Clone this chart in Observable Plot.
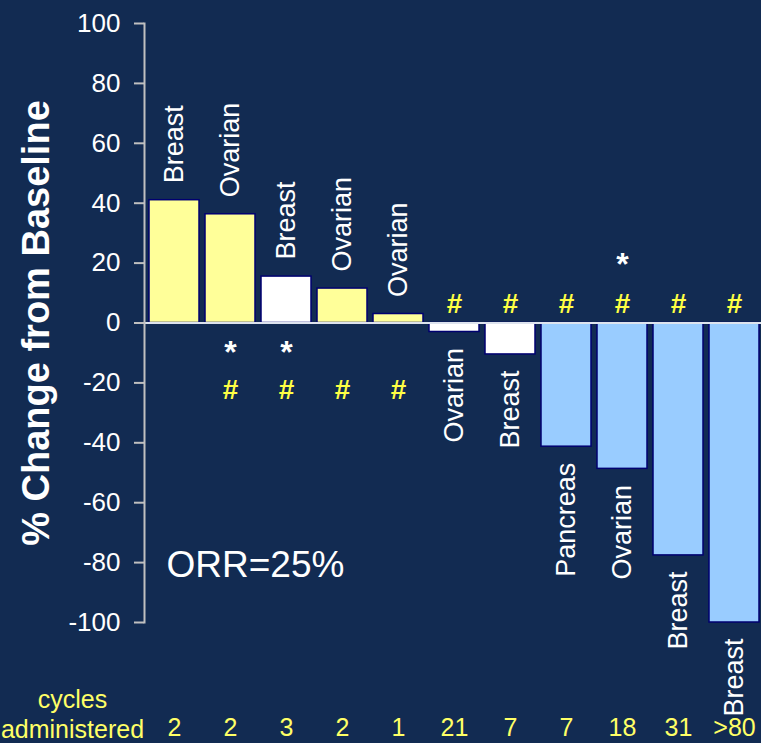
<!DOCTYPE html>
<html><head><meta charset="utf-8">
<script src="https://cdn.jsdelivr.net/npm/d3@7"></script>
<script src="https://cdn.jsdelivr.net/npm/@observablehq/plot@0.6"></script>
<style>
html,body{margin:0;padding:0;background:#122b52;overflow:hidden;}
#chart svg{display:block}
</style></head><body><div id="chart"></div>
<script>
// ---- data ----
const tumors  = ["Breast","Ovarian","Breast","Ovarian","Ovarian","Ovarian","Breast","Pancreas","Ovarian","Breast","Breast"];
const changes = [41, 36.3, 15.5, 11.5, 3, -3, -10.5, -41.3, -48.7, -77.6, -100];
const cycles  = ["2","2","3","2","1","21","7","7","18","31",">80"];
const groups  = ["grpA","grpA","grpB","grpA","grpA","grpB","grpB","grpC","grpC","grpC","grpC"];
const hashMark = [false,true,true,true,true,true,true,true,true,true,true];
const starMark = [false,true,true,false,false,false,false,false,true,false,false];
const yTicks = [100,80,60,40,20,0,-20,-40,-60,-80,-100];
const yTitle = "% Change from Baseline";
const orrLabel = "ORR=25%";
const cyclesTitle = "cycles\nadministered";

const data = changes.map((v, i) => ({i, v, tumor: tumors[i], cyc: cycles[i], group: groups[i], hash: hashMark[i], star: starMark[i]}));
// marker rows: placed on the opposite side of the zero line from the bar
const hashRows = data.filter(d => d.hash).map(d => ({i: d.i, y: d.v > 0 ? -22.5 : 6.5}));
const starRows = data.filter(d => d.star).map(d => ({i: d.i, y: d.v > 0 ? -10 : 19.5}));

const font = "'Liberation Sans', Arial, sans-serif";

const chart = Plot.plot({
  width: 761,
  height: 743,
  marginLeft: 144,
  marginRight: -3,
  marginTop: 23,
  marginBottom: 121,
  style: {background: "#122b52", color: "white", fontFamily: font},
  x: {type: "band", domain: d3.range(tumors.length), paddingInner: 0.1, paddingOuter: 0.05, axis: null},
  y: {domain: [-100, 100], axis: null},
  color: {type: "ordinal", domain: ["grpA","grpB","grpC"], range: ["#ffff99","#ffffff","#99ccff"]},
  marks: [
    Plot.barY(data, {x: "i", y: "v", fill: "group", stroke: "#000070", strokeWidth: 1.5}),
    Plot.ruleY([0], {stroke: "#dde3ee", strokeWidth: 2}),
    Plot.frame({anchor: "left", stroke: "#c0c0c0", strokeWidth: 2}),
    Plot.axisY({ticks: yTicks, tickSize: 10, tickPadding: 14, fontSize: 26, stroke: "#c0c0c0", strokeWidth: 2, fill: "white", label: null, tickFormat: d => String(d)}),
    Plot.axisX({tickSize: 0, tickPadding: 96, fontSize: 25, fill: "#ffff66", label: null, tickFormat: i => cycles[i]}),
    // tumor labels
    Plot.text(data.filter(d => d.v > 0), {x: "i", y: "v", text: "tumor", rotate: -90, textAnchor: "start", dy: -17, fontSize: 27, fill: "white"}),
    Plot.text(data.filter(d => d.v < 0), {x: "i", y: "v", text: "tumor", rotate: -90, textAnchor: "end", dy: 16, fontSize: 27, fill: "white"}),
    // markers
    Plot.text(hashRows, {x: "i", y: "y", text: () => "#", fontSize: 28, fontWeight: "bold", fill: "#ffff44"}),
    Plot.text(starRows, {x: "i", y: "y", text: () => "*", fontSize: 32, fontWeight: "bold", fill: "white"}),
    // ORR annotation
    Plot.text([orrLabel], {frameAnchor: "left", y: [-81], text: d => d, textAnchor: "start", dx: 22, fontSize: 37, fill: "white"}),
    // y title
    Plot.text([yTitle], {frameAnchor: "left", text: d => d, rotate: -90, textAnchor: "middle", dx: -108, fontSize: 38, fontWeight: "bold", fill: "white"}),
    // cycles administered
    Plot.text([cyclesTitle], {frameAnchor: "bottom-left", text: d => d, textAnchor: "middle", lineAnchor: "top", lineHeight: 1.2, dx: -72, dy: 64, fontSize: 25, fill: "#ffff66"})
  ]
});
document.getElementById("chart").append(chart);
</script>
</body></html>
